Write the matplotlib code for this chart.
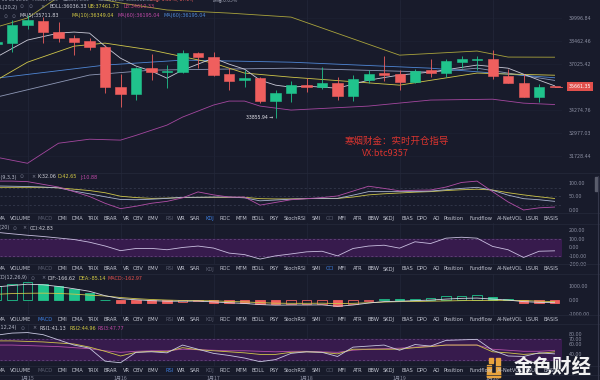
import numpy as np
import matplotlib.pyplot as plt
from matplotlib.patches import Rectangle
from matplotlib.ticker import NullLocator
from matplotlib.transforms import blended_transform_factory

# ================== DATA ==================
idx = np.arange(37)  # 4h candles
opens = np.array([38290, 38355, 39530, 39796, 39068, 38677, 38484, 38099, 35633, 35218,
                  36784, 36538, 36538, 37718, 37467, 36416, 36053, 36174, 34807, 35277,
                  35752, 35633, 35872, 35100, 36053, 36477, 36416, 35932, 36661, 36477,
                  37154, 37279, 37342, 36295, 35872, 35041, 35676.56])
highs = np.array([38480, 39863, 40199, 40064, 39729, 38872, 38677, 38227, 36416, 36845,
                  37655, 36969, 37908, 37782, 37782, 36784, 36661, 36234, 35454, 35992,
                  36174, 36845, 36234, 36356, 36661, 37530, 36661, 36722, 37342, 37342,
                  37530, 37530, 37908, 36722, 36416, 35812, 35676.89])
lows = np.array([38230, 37782, 39265, 38355, 38419, 37593, 37908, 35277, 34460, 34865,
                 36053, 35573, 36477, 36784, 36295, 35454, 35633, 34691, 33855.94, 34749,
                 35336, 35514, 34865, 34807, 35872, 35992, 35454, 35872, 36234, 36234,
                 36784, 36661, 36113, 35872, 35041, 34749, 35661.35])
closes = np.array([38420, 39530, 39863, 39068, 38677, 38419, 38099, 35633, 35218, 36784,
                   36538, 36600, 37718, 37467, 36356, 35992, 36174, 34807, 35277, 35752,
                   35633, 35872, 35100, 36113, 36416, 36356, 35932, 36600, 36477, 37217,
                   37342, 37342, 36295, 35872, 35041, 35661, 35661.35])

ub_idx = [0, 2, 4, 6, 8, 11, 15, 19, 26, 31, 33, 36]
ub = [39400, 40000, 41430, 41430, 41020, 40540, 40330, 40060, 37590, 37850, 37470, 37461.73]
ma10_idx = [0, 2, 5, 7, 10, 14, 16, 19, 26, 31, 33, 36]
ma10 = [36050, 37150, 38160, 38355, 37910, 37090, 36480, 36230, 35750, 36480, 36420, 36349.04]
boll_idx = [0, 6, 10, 19, 28, 31, 36]
boll = [35040, 36360, 36660, 36780, 36540, 36780, 36036.33]
ma60_idx = [0, 7, 12, 19, 28, 36]
ma60 = [36170, 36970, 37280, 37150, 36780, 36195.04]
ma5_idx = [0, 2, 4, 5, 6, 7, 8, 9, 10, 11, 12, 13, 14, 15, 16, 17, 18, 19, 20, 22, 24, 26,
           28, 31, 33, 35, 36]
ma5 = [37470, 38550, 39000, 39070, 39000, 38160, 37400, 36910, 36600, 36170, 36660, 37030,
       37400, 37030, 36720, 36050, 35750, 35630, 35690, 35570, 36050, 36360, 36540, 36970,
       36780, 36050, 35711.83]
lb_idx = [0, 2, 4, 6, 8, 9, 11, 12, 14, 15, 16, 17, 19, 24, 28, 32, 34, 36]
lb = [31690, 31370, 32440, 32660, 32610, 32870, 33440, 33890, 34580, 34810, 34810, 34520,
      34290, 34520, 34870, 34920, 34690, 34610.33]

k_vals = [89, 88, 87, 85, 82, 70, 60, 49, 39, 38, 40, 43, 47, 47, 48, 48, 45, 34, 37, 40,
          42, 43, 43, 55, 68, 68, 68, 68, 70, 75, 80, 84, 73, 55, 42, 38, 32.06]
d_vals = [84, 84, 84, 84, 82, 77, 72, 64, 51, 46, 43, 44, 46, 47, 47, 47, 47, 42, 41, 41,
          42, 43, 43, 48, 56, 60, 63, 66, 68, 72, 75, 77, 74, 64, 56, 49, 42.65]
j_vals = [107, 107, 105, 95, 85, 68, 50, 25, 5, 14, 25, 32, 45, 67, 56, 48, 48, 18, 28, 38,
          42, 46, 52, 70, 88, 80, 71, 73, 74, 85, 102, 107, 68, 30, 0, 8, 10.88]

cci = [178, 160, 143, 128, 110, 92, 60, 15, -41, -15, -14, -30, -3, 14, -10, -70, -88, -141,
       -103, -80, -55, -48, -103, -15, 14, 24, -11, 65, 44, 108, 119, 108, 10, -30, -122, -48,
       -43]

dif = [950, 1050, 1140, 1100, 980, 820, 640, 330, 120, 40, -20, -60, -60, -50, -110, -170,
       -220, -300, -340, -330, -330, -320, -420, -330, -190, -90, -60, -20, 20, 90, 140, 160,
       90, 20, -90, -140, -166.62]
dea = [430, 480, 500, 510, 490, 440, 370, 310, 200, 120, 60, 20, -10, -20, -30, -80, -110,
       -160, -200, -210, -210, -200, -230, -210, -170, -120, -90, -80, -60, -40, -20, -10, 0,
       0, -10, -60, -85.14]
macd = np.array([1030, 1140, 1290, 1190, 990, 770, 555, 50, -165, -165, -165, -165, -100, -65,
                 -165, -185, -210, -275, -290, -250, -245, -240, -380, -230, -50, 65, 65, 120,
                 165, 275, 330, 345, 210, 100, -155, -160, -162.97])

rsi1 = [77, 81, 82, 78, 68, 58, 52, 27, 24, 44, 45, 43, 58, 50, 42, 38, 33, 26, 30, 42, 45,
        44, 36, 54, 56, 58, 48, 59, 56, 67, 68, 69, 48, 37, 36, 43, 41.13]
rsi2 = [66, 66, 65, 64, 62, 60, 54, 46, 37, 44, 46, 45, 53, 49, 47, 45, 43, 40, 40, 44, 45,
        44, 41, 50, 50, 50, 50, 53, 55, 58, 58, 58, 45, 43, 40, 42, 44.96]
rsi3 = [58, 58, 57, 56, 55, 53, 51, 47, 44, 46, 47, 47, 50, 49, 48, 47, 47, 46, 45, 46, 46,
        45, 44, 48, 50, 51, 52, 54, 56, 58, 58, 58, 50, 48, 46, 46, 47.77]

date_idx = [2, 8, 14, 20, 26, 32]
date_labels = ['1月15', '1月16', '1月17', '1月18', '1月19', '1月20']
price_ticks = [39996.84, 38462.46, 37025.42, 34274.76, 32977.03, 31728.44]
last_price = 35661.35
low_price = 33855.94

tabs = ['MA', 'VOLUME', 'MACD', 'DMI', 'DMA', 'TRIX', 'BRAR', 'VR', 'OBV', 'EMV', 'RSI', 'WR',
        'SAR', 'KDJ', 'ROC', 'MTM', 'BOLL', 'PSY', 'StochRSI', 'SMI', 'CCI', 'MFI', 'ATR', 'BBW',
        'SKDJ', 'BIAS', 'DPO', 'AO', 'Position', 'Fundflow', 'AI-NetVOL', 'LSUR', 'BASIS']

# ================== STYLE ==================
W, H = 600, 380
PLOT_W = 562
X_LEFT, X_RIGHT = 0.226, 36.48
BG = '#181b2b'
GRID = '#23273a'
AXIS_TXT = '#8c90a3'
GREEN = '#20c38c'
RED = '#ef5f5e'
CJK = ['Noto Sans CJK SC', 'DejaVu Sans']
tab_x = [-3, 10, 37, 57, 71, 87, 104, 123, 133, 148, 165, 177, 190, 205, 220, 235, 252, 269,
         284, 312, 326, 338, 353, 367, 383, 401, 417, 433, 444, 469, 497, 526, 543]

plt.rcParams['font.family'] = ['DejaVu Sans']
fig = plt.figure(figsize=(6, 3.8), dpi=100, facecolor=BG)


def ftext(x, y, s, color, size=3.5, ha='left', family=None, **kw):
    fig.text(x / W, 1 - y / H, s, color=color, fontsize=size, ha=ha, va='center',
             family=family or ['DejaVu Sans'], **kw)


def hline(y, x0=0, x1=W, color='#262a3b', lw=0.5):
    fig.add_artist(plt.Line2D([x0 / W, x1 / W], [1 - y / H, 1 - y / H],
                              color=color, lw=lw, transform=fig.transFigure))


def panel(top, bottom, ylim, ticks, labels, log=False):
    ax = fig.add_axes([0, 1 - bottom / H, PLOT_W / W, (bottom - top) / H])
    ax.set_facecolor(BG)
    if log:
        ax.set_yscale('log')
    ax.set_xlim(X_LEFT, X_RIGHT)
    ax.set_ylim(*ylim)
    ax.set_yticks(ticks)
    ax.set_yticklabels(labels)
    ax.yaxis.set_minor_locator(NullLocator())
    ax.yaxis.tick_right()
    ax.tick_params(axis='y', length=0, pad=5, labelsize=3.4, labelcolor=AXIS_TXT)
    ax.tick_params(axis='x', bottom=False, labelbottom=False)
    for s in ax.spines.values():
        s.set_visible(False)
    for d in date_idx:
        ax.axvline(d, color=GRID, lw=0.5, zorder=0)
    return ax


# ================== MAIN (candles + BOLL + MA) ==================
ax = panel(0, 172.5, (30890, 41223), price_ticks, [f'{p:.2f}' for p in price_ticks], log=True)
for p in price_ticks:
    ax.axhline(p, color='#1f2335', lw=0.4, zorder=0)
up = closes >= opens
cols = np.where(up, GREEN, RED)
ax.vlines(idx, lows, highs, colors=cols, lw=0.6, zorder=3)
ax.bar(idx, np.abs(closes - opens), bottom=np.minimum(opens, closes), width=0.65,
       color=cols, edgecolor=cols, linewidth=0.4, zorder=4)
ax.plot(ub_idx, ub, color='#a9a33c', lw=0.6, zorder=2)
ax.plot(lb_idx, lb, color='#a4479f', lw=0.6, zorder=2)
ax.plot(boll_idx, boll, color='#8e98b6', lw=0.6, zorder=2)
ax.plot(ma60_idx, ma60, color='#4f86d4', lw=0.6, zorder=2)
ax.plot(ma10_idx, ma10, color='#cfc64a', lw=0.6, zorder=2)
ax.plot(ma5_idx, ma5, color='#c9c9d6', lw=0.6, zorder=2)
ax.plot([36, X_RIGHT], [last_price, last_price], color=RED, lw=0.6, zorder=5, clip_on=False)
trans = blended_transform_factory(ax.transAxes, ax.transData)
ax.text(1.0125, last_price, f'{last_price:.2f}', transform=trans, fontsize=3.4, color='white',
        ha='left', va='center',
        bbox=dict(boxstyle='square,pad=0.35', facecolor='#e2504c', edgecolor='none'))
ax.text(17.85, low_price, f'{low_price:.2f} →', fontsize=3.3, color='#e6e6ee',
        ha='right', va='center', zorder=6)

# header rows of the main chart
ftext(0, -0.5, '-01-20 16:00', '#9da1b2', family=CJK)
ftext(32, -0.5, '开:35676.56', '#9da1b2', family=CJK)
ftext(63, -0.5, '高:35676.89', '#9da1b2', family=CJK)
ftext(98, -0.5, '低:35661.35', '#9da1b2', family=CJK)
ftext(126, -0.5, '收:35661.35', '#9da1b2', family=CJK)
ftext(150, -0.5, '涨幅:-0.05%(-17.04)', RED, family=CJK)
ftext(213, -0.5, '振幅:0.05%', '#9da1b2', family=CJK)
ftext(18, 7, 'BOLL(20,2)', '#b4b8c8', ha='right')
ftext(20, 7, '⊙', '#6d7185')
ftext(29, 7, '⊙', '#6d7185')
ftext(40, 7, '×', '#8a8ea0')
ftext(49, 7, 'BOLL:36036.33', '#c9cbd6')
ftext(88, 7, 'UB:37461.73', '#d6cc45')
ftext(124, 7, 'LB:34610.33', '#c9457f')
ftext(4, 16, '⊙', '#6d7185')
ftext(12, 16, '⊙', '#6d7185')
ftext(20, 16, 'MA(5):35711.83', '#d2d3dc')
ftext(72, 16, 'MA(10):36349.04', '#d6cc45')
ftext(118, 16, 'MA(60):36195.04', '#c04aa8')
ftext(163, 16, 'MA(60):36195.04', '#4f8ad8')

# watermark
ftext(345, 141, '寒烟财金：实时开仓指导', '#d8342f', size=6.8, family=CJK)
ftext(362, 153, 'VX:btc9357', '#d8342f', size=6.5, family=CJK)

# ================== KDJ ==================
ax_k = panel(173, 213, (-11.1, 137), [100, 50, 0], ['100.00', '50.00', '0.00'])
for lvl in (80, 50, 20):
    ax_k.axhline(lvl, color='#3a3e52', lw=0.5, ls=(0, (3, 3)), zorder=1)
ax_k.plot(idx, d_vals, color='#cfc64a', lw=0.6, zorder=2)
ax_k.plot(idx, k_vals, color='#aab4cf', lw=0.6, zorder=3)
ax_k.plot(idx, j_vals, color='#b34fa8', lw=0.6, zorder=3)
ftext(17, 177, 'KDJ(9,3,3)', '#b4b8c8', ha='right')
ftext(20, 177, '⊙', '#6d7185')
ftext(31, 177, '×', '#8a8ea0')
ftext(37, 177, 'K:32.06', '#d2d3dc')
ftext(58, 177, 'D:42.65', '#d6cc45')
ftext(80, 177, 'J:10.88', '#c04aa8')

# ================== CCI ==================
ax_c = panel(223, 264, (-166.7, 288.9), [200, 100, 0, -100, -200],
             ['200.00', '100.00', '0.00', '-100.00', '-200.00'])
ax_c.axhspan(-100, 100, color='#371b4d', zorder=0)
for lvl in (100, -100):
    ax_c.axhline(lvl, color='#6b4c85', lw=0.5, ls=(0, (3, 3)), zorder=1)
ax_c.plot(idx, cci, color='#c9bfe0', lw=0.6, zorder=3)
ftext(10, 228, 'CCI(20)', '#b4b8c8', ha='right')
ftext(13, 228, '⊙', '#6d7185')
ftext(22, 228, '×', '#8a8ea0')
ftext(30, 228, 'CCI:42.83', '#d2d3dc')

# ================== MACD ==================
ax_m = panel(274, 314.5, (-784, 1863), [1000, 0, -1000], ['1000.00', '0.00', '-1000.00'])
hollow = np.r_[True, macd[1:] > macd[:-1]]
mcol = np.where(macd >= 0, GREEN, RED)
for i in idx:
    ax_m.bar(i, macd[i], width=0.62, color=BG if hollow[i] else mcol[i],
             edgecolor=mcol[i], linewidth=0.6, zorder=2)
ax_m.plot(idx, dea, color='#cfc64a', lw=0.6, zorder=3)
ax_m.plot(idx, dif, color='#d6d6e0', lw=0.6, zorder=3)
ftext(27, 278, 'MACD(12,26,9)', '#b4b8c8', ha='right')
ftext(31, 278, '⊙', '#6d7185')
ftext(41, 278, '×', '#8a8ea0')
ftext(48, 278, 'DIF:-166.62', '#d2d3dc')
ftext(79, 278, 'DEA:-85.14', '#d6cc45')
ftext(108, 278, 'MACD:-162.97', '#e2504c')

# ================== RSI ==================
ax_r = panel(324, 366, (17.7, 98.5), [80, 70, 60, 40], ['80.00', '70.00', '60.00', '40.00'])
ax_r.axhspan(30, 70, color='#371b4d', zorder=0)
for lvl in (70, 30):
    ax_r.axhline(lvl, color='#6b4c85', lw=0.5, ls=(0, (3, 3)), zorder=1)
ax_r.plot(idx, rsi3, color='#b34fa8', lw=0.6, zorder=2)
ax_r.plot(idx, rsi2, color='#cfc64a', lw=0.6, zorder=3)
ax_r.plot(idx, rsi1, color='#c8c8e0', lw=0.6, zorder=4)
ftext(17, 328, 'RSI(6,12,24)', '#b4b8c8', ha='right')
ftext(21, 328, '⊙', '#6d7185')
ftext(32, 328, '×', '#8a8ea0')
ftext(40, 328, 'RSI1:41.13', '#d2d3dc')
ftext(70, 328, 'RSI2:44.96', '#d6cc45')
ftext(98, 328, 'RSI3:47.77', '#c04aa8')

date_trans = blended_transform_factory(ax_r.transData, fig.transFigure)
for d, lab in zip(date_idx, date_labels):
    ax_r.text(d, 1 - 378.5 / H, lab, transform=date_trans, fontsize=3.7, color='#8c90a3',
              ha='center', va='center', family=CJK, clip_on=False)

# ================== indicator tab rows ==================
used = {'MACD', 'RSI', 'KDJ', 'CCI'}
for y, active in [(218.3, 'KDJ'), (269, 'CCI'), (319.3, 'MACD'), (370.7, 'RSI')]:
    for name, x in zip(tabs, tab_x):
        if name == active:
            c = '#3d7fe0'
        elif name in used:
            c = '#5b5f72'
        else:
            c = '#c2c5d1'
        ftext(x, y, name, c, size=3.7)

for y in (172.7, 213, 223.5, 264, 274, 314.5, 324, 366, 375):
    hline(y)

# scrollbar
fig.add_artist(plt.Line2D([598 / W, 598 / W], [1 - 176 / H, 0], color='#34374a', lw=0.8,
                          transform=fig.transFigure))
fig.add_artist(Rectangle((594.5 / W, 1 - 191 / H), 3 / W, 14 / H, color='#5a5d6c',
                         transform=fig.transFigure))

# ================== bottom-right logo ==================
GOLD = '#e8a33d'
for x0, y0, x1, y1 in [(496, 358, 500, 377), (487, 373, 500, 377), (487, 365, 491, 377),
                       (489, 358, 493.5, 362.5)]:
    fig.add_artist(Rectangle((x0 / W, 1 - y1 / H), (x1 - x0) / W, (y1 - y0) / H, color=GOLD,
                             transform=fig.transFigure))
ftext(553, 367, '金色财经', '#f2f2f2', size=14, ha='center', family=CJK, fontweight='bold')

fig.savefig('out.png', dpi=100, facecolor=BG)
